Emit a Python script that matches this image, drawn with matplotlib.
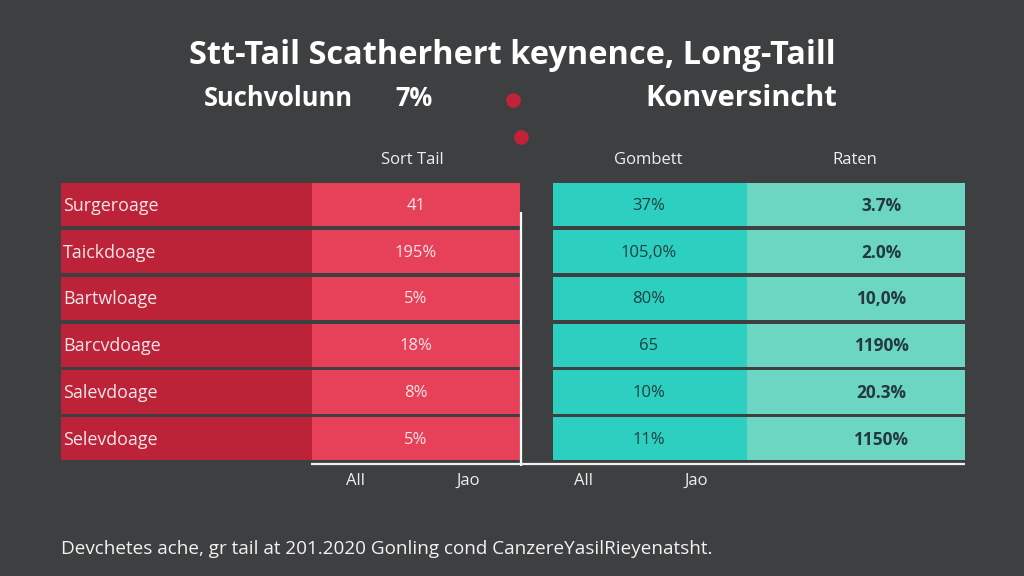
"""Short tail vs long tail table chart on a dark background."""

import matplotlib
matplotlib.use("Agg")
import matplotlib.pyplot as plt

row_labels = ["Surgeroage", "Taickdoage", "Bartwloage", "Barcvdoage", "Salevdoage", "Selevdoage"]
sort_tail = ["41", "195%", "5%", "18%", "8%", "5%"]
gombett = ["37%", "105,0%", "80%", "65", "10%", "11%"]
raten = ["3.7%", "2.0%", "10,0%", "1190%", "20.3%", "1150%"]
col_headers = ["Sort Tail", "Gombett", "Raten"]
axis_labels = ["All", "Jao", "All", "Jao"]

BG = "#3e3f40"
DARK_RED = "#bc2238"
RED = "#e64158"
TEAL = "#2ccfc0"
LIGHT_TEAL = "#6dd6c2"
DARK_TEXT = "#1f3f42"

plt.rcParams["font.family"] = ["Open Sans", "DejaVu Sans"]

fig = plt.figure(figsize=(10.24, 5.76), dpi=100, facecolor=BG)
ax = fig.add_axes([0, 0, 1, 1])
ax.set_xlim(0, 1024)
ax.set_ylim(576, 0)
ax.axis("off")

# Table rows, all in pixel space of the figure.
row_h = 43.2
row_step = 46.8
ys = [204.8 + i * row_step for i in range(len(row_labels))]

ax.barh(ys, [251] * 6, left=61, height=row_h, color=DARK_RED)
ax.barh(ys, [207.5] * 6, left=312, height=row_h, color=RED)
ax.barh(ys, [194] * 6, left=553, height=row_h, color=TEAL)
ax.barh(ys, [218] * 6, left=747, height=row_h, color=LIGHT_TEAL)

for y, name, a, b, c in zip(ys, row_labels, sort_tail, gombett, raten):
    ax.text(63, y + 1, name, color="#f4e6e8", fontsize=12.9, va="center")
    ax.text(416, y + 1, a, color="#f6e4e6", fontsize=12, va="center", ha="center")
    ax.text(649, y + 1, b, color=DARK_TEXT, fontsize=12, va="center", ha="center")
    ax.text(881, y + 1, c, color="#23393b", fontsize=12.4, va="center", ha="center",
            fontweight="bold")

# White axis lines.
ax.plot([520.5, 520.5], [212, 466], color="white", lw=1.6, solid_capstyle="butt")
ax.plot([311, 965], [464, 464], color="#f0f0f0", lw=1.6, solid_capstyle="butt")

for x, label in zip([355, 468, 584, 696], axis_labels):
    ax.text(x, 481, label, color="#eeeeee", fontsize=12, ha="center", va="center")

for x, label in zip([412, 648, 855], col_headers):
    ax.text(x, 160, label, color="#eeeeee", fontsize=12, ha="center", va="center")

ax.text(512, 56, "Stt-Tail Scatherhert keynence, Long-Taill", color="white",
        fontsize=23.4, fontweight="bold", ha="center", va="center")
ax.text(278, 98, "Suchvolunn", color="white", fontsize=18.4, fontweight="bold",
        ha="center", va="center")
ax.text(414, 98, "7%", color="white", fontsize=18.4, fontweight="bold",
        ha="center", va="center")
ax.text(741, 98, "Konversincht", color="white", fontsize=20.9, fontweight="bold",
        ha="center", va="center")

ax.scatter([513, 520.5], [100, 137], s=110, color="#c32339", linewidths=0)

ax.text(61, 549, "Devchetes ache, gr tail at 201.2020 Gonling cond CanzereYasilRieyenatsht.",
        color="#f2f2f2", fontsize=13.6, ha="left", va="center")

fig.savefig("out.png", dpi=100, facecolor=BG)
